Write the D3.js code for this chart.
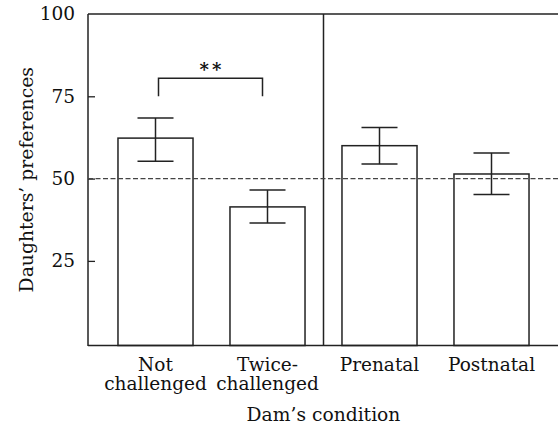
<!DOCTYPE html>
<html>
<head>
<meta charset="utf-8">
<script src="https://cdn.jsdelivr.net/npm/d3@7"></script>
<style>
  body { margin: 0; background: #fff; }
  text { font-family: "DejaVu Serif", serif; fill: #111; }
</style>
</head>
<body>
<svg width="558" height="429"></svg>
<script>
// data
const conditions = [["Not", "challenged"], ["Twice-", "challenged"], ["Prenatal"], ["Postnatal"]];
const means = [62.3, 41.4, 60.0, 51.4];
const upper = [68.4, 46.5, 65.5, 57.8];
const lower = [55.3, 36.5, 54.4, 45.2];
const yTicks = [25, 50, 75, 100];
const chance = 50;

const svg = d3.select('svg');
const plotL = 88, plotR = 558, plotT = 14, plotB = 345.5;
const ink = '#222';

const x = d3.scaleBand()
  .domain(d3.range(conditions.length))
  .range([99.5, 547.5])
  .paddingInner(0.33)
  .paddingOuter(0.165);

const y = d3.scaleLinear().domain([-0.7, 100]).range([plotB, plotT]);

// frame: left axis, top and bottom lines
svg.append('line').attr('x1', plotL).attr('x2', plotL).attr('y1', plotT).attr('y2', plotB + 0.5)
  .attr('stroke', ink).attr('stroke-width', 1.5);
svg.append('line').attr('x1', plotL).attr('x2', plotR).attr('y1', plotT).attr('y2', plotT)
  .attr('stroke', ink).attr('stroke-width', 1.5);
svg.append('line').attr('x1', plotL).attr('x2', plotR).attr('y1', plotB).attr('y2', plotB)
  .attr('stroke', ink).attr('stroke-width', 1.5);

// y ticks point inward
const yAxis = svg.append('g').attr('transform', `translate(${plotL},0)`)
  .call(d3.axisLeft(y).tickValues(yTicks).tickSize(-7).tickPadding(13));
yAxis.select('.domain').remove();
yAxis.selectAll('.tick line').attr('stroke', ink).attr('stroke-width', 1.3);
yAxis.selectAll('.tick line').filter(d => d === 100).remove();
yAxis.selectAll('.tick text').attr('font-size', 18.5).attr('font-family', '"DejaVu Serif", serif').attr('fill', '#111');

// divider between the two groups
const divX = (x(1) + x.bandwidth() + x(2)) / 2;
svg.append('line').attr('x1', divX).attr('x2', divX).attr('y1', plotT).attr('y2', plotB)
  .attr('stroke', ink).attr('stroke-width', 1.5);

// bars
svg.selectAll('rect.bar').data(means).join('rect')
  .attr('class', 'bar')
  .attr('x', (d, i) => x(i))
  .attr('y', d => y(d))
  .attr('width', x.bandwidth())
  .attr('height', d => plotB - y(d))
  .attr('fill', 'none')
  .attr('stroke', ink)
  .attr('stroke-width', 1.5);

// chance line
svg.append('line').attr('x1', plotL).attr('x2', plotR).attr('y1', y(chance)).attr('y2', y(chance))
  .attr('stroke', '#444').attr('stroke-width', 1.4).attr('stroke-dasharray', '5,2.5');

// error bars
const capHalf = 18;
const err = svg.append('g').attr('stroke', ink).attr('stroke-width', 1.5);
means.forEach((m, i) => {
  const cx = x(i) + x.bandwidth() / 2;
  err.append('line').attr('x1', cx).attr('x2', cx).attr('y1', y(upper[i])).attr('y2', y(lower[i]));
  err.append('line').attr('x1', cx - capHalf).attr('x2', cx + capHalf).attr('y1', y(upper[i])).attr('y2', y(upper[i]));
  err.append('line').attr('x1', cx - capHalf).attr('x2', cx + capHalf).attr('y1', y(lower[i])).attr('y2', y(lower[i]));
});

// significance bracket between the first two bars
const c0 = x(0) + x.bandwidth() / 2 + 3, c1 = x(1) + x.bandwidth() / 2 - 5;
svg.append('path')
  .attr('d', `M${c0},${y(75)}V${y(80.5)}H${c1}V${y(75)}`)
  .attr('fill', 'none').attr('stroke', ink).attr('stroke-width', 1.5);
svg.append('text').attr('x', (c0 + c1) / 2 + 1.5).attr('y', y(80.5) - 2)
  .attr('text-anchor', 'middle').attr('font-size', 18).attr('font-weight', 'bold')
  .attr('letter-spacing', 3).text('**');

// category labels
conditions.forEach((lines, i) => {
  const t = svg.append('text').attr('text-anchor', 'middle').attr('font-size', 18.5)
    .attr('x', x(i) + x.bandwidth() / 2).attr('y', 371);
  lines.forEach((s, k) => t.append('tspan').attr('x', x(i) + x.bandwidth() / 2).attr('dy', k ? 19 : 0).text(s));
});

// axis titles
svg.append('text').attr('x', divX).attr('y', 421).attr('text-anchor', 'middle')
  .attr('font-size', 18.7).text('Dam\u2019s condition');
svg.append('text').attr('transform', `translate(33,${(plotT + plotB) / 2}) rotate(-90)`)
  .attr('text-anchor', 'middle').attr('font-size', 18.8).text('Daughters\u2019 preferences');
</script>
</body>
</html>
